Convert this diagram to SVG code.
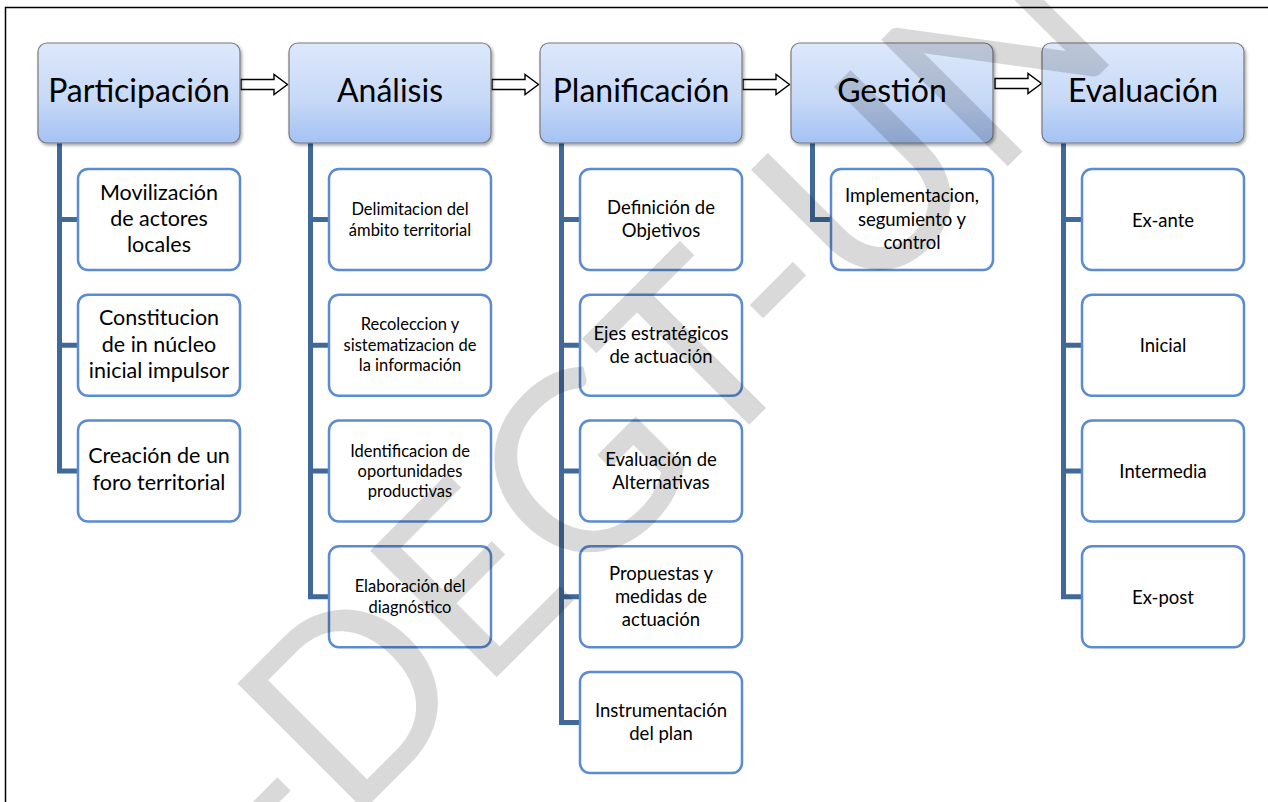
<svg xmlns="http://www.w3.org/2000/svg" width="1268" height="802" viewBox="0 0 1268 802">
  <defs>
    <linearGradient id="hdFill" x1="0" y1="0" x2="0" y2="1">
      <stop offset="0" stop-color="#dde8fb"/>
      <stop offset="0.55" stop-color="#c8daf7"/>
      <stop offset="1" stop-color="#a4c2f4"/>
    </linearGradient>
    <filter id="shadow" x="-10%" y="-10%" width="125%" height="130%">
      <feDropShadow dx="1.5" dy="2" stdDeviation="1.5" flood-color="#000" flood-opacity="0.35"/>
    </filter>
  </defs>
  <style>
    .frame { fill: none; stroke: #000; stroke-width: 1.5; }
    .hd rect { fill: url(#hdFill); stroke: #7a7a7a; stroke-width: 1.2; filter: url(#shadow); }
    .hd text { font-family: Lato, "Liberation Sans", sans-serif; font-size: 32px; text-anchor: middle; fill: #000; }
    .box rect { fill: #fff; stroke: #5b8bd1; stroke-width: 2.5; }
    .box text { font-family: Lato, "Liberation Sans", sans-serif; text-anchor: middle; fill: #000; }
    .s22 text { font-size: 21.5px; }
    .s17 text { font-size: 16.5px; }
    .s19 text { font-size: 18.5px; }
    .bar { fill: none; stroke: #41689b; stroke-width: 5; }
    .arrow { fill: #fff; stroke: #000; stroke-width: 1.4; stroke-linejoin: miter; }
    .mark { font-family: Lato, "Liberation Sans", sans-serif; fill: #000; fill-opacity: 0.15; }
  </style>

  <rect width="1268" height="802" fill="#fff"/>
  <rect class="frame" x="5.5" y="7.5" width="1300" height="900"/>

  <!-- tree connectors: vertical spines with ticks, and block arrows between stages -->
  <g id="connectors">
    <path class="bar" d="M59.5 143 V473.5 M57 471 H78 M59.5 219.5 H78 M59.5 345.25 H78"/>
    <path class="bar" d="M310.5 143 V599.25 M308 596.75 H329 M310.5 219.5 H329 M310.5 345.25 H329 M310.5 471 H329"/>
    <path class="bar" d="M561.5 143 V725 M559 722.5 H580 M561.5 219.5 H580 M561.5 345.25 H580 M561.5 471 H580 M561.5 596.75 H580"/>
    <path class="bar" d="M812.5 143 V222 M810 219.5 H831"/>
    <path class="bar" d="M1063.5 143 V599.25 M1061 596.75 H1082 M1063.5 219.5 H1082 M1063.5 345.25 H1082 M1063.5 471 H1082"/>
    <path class="arrow" d="M241 79.5 H274 V74.5 L287.5 84.5 L274 94.5 V89.5 H241 Z"/>
    <path class="arrow" d="M492 79.5 H525 V74.5 L538.5 84.5 L525 94.5 V89.5 H492 Z"/>
    <path class="arrow" d="M743 79.5 H776 V74.5 L789.5 84.5 L776 94.5 V89.5 H743 Z"/>
    <path class="arrow" d="M995 78.5 H1028 V73.5 L1041.5 83.5 L1028 93.5 V88.5 H995 Z"/>
  </g>

  <!-- stage headers -->
  <g id="participacion" class="hd"><rect x="38" y="43" width="202" height="100" rx="9"/><text x="139" y="102">Participación</text></g>
  <g id="analisis" class="hd"><rect x="289" y="43" width="202" height="100" rx="9"/><text x="390" y="102">Análisis</text></g>
  <g id="planificacion" class="hd"><rect x="540" y="43" width="202" height="100" rx="9"/><text x="641" y="102">Planificación</text></g>
  <g id="gestion" class="hd"><rect x="791" y="43" width="202" height="100" rx="9"/><text x="892" y="102">Gestión</text></g>
  <g id="evaluacion" class="hd"><rect x="1042" y="43" width="202" height="100" rx="9"/><text x="1143" y="102">Evaluación</text></g>

  <!-- Participación tasks -->
  <g id="p-movilizacion" class="box s22"><rect x="78" y="169" width="162" height="101" rx="10"/>
    <text x="159" y="200">Movilización</text><text x="159" y="226">de actores</text><text x="159" y="252">locales</text></g>
  <g id="p-constitucion" class="box s22"><rect x="78" y="294.75" width="162" height="101" rx="10"/>
    <text x="159" y="325">Constitucion</text><text x="159" y="351.5">de in núcleo</text><text x="159" y="377.5">inicial impulsor</text></g>
  <g id="p-foro" class="box s22"><rect x="78" y="420.5" width="162" height="101" rx="10"/>
    <text x="159" y="463">Creación de un</text><text x="159" y="490">foro territorial</text></g>

  <!-- Análisis tasks -->
  <g id="a-delimitacion" class="box s17"><rect x="329" y="169" width="162" height="101" rx="10"/>
    <text x="410" y="215">Delimitacion del</text><text x="410" y="236">ámbito territorial</text></g>
  <g id="a-recoleccion" class="box s17"><rect x="329" y="294.75" width="162" height="101" rx="10"/>
    <text x="410" y="330">Recoleccion y</text><text x="410" y="351">sistematizacion de</text><text x="410" y="371">la información</text></g>
  <g id="a-identificacion" class="box s17"><rect x="329" y="420.5" width="162" height="101" rx="10"/>
    <text x="410" y="457">Identificacion de</text><text x="410" y="477">oportunidades</text><text x="410" y="497">productivas</text></g>
  <g id="a-diagnostico" class="box s17"><rect x="329" y="546.25" width="162" height="101" rx="10"/>
    <text x="410" y="592">Elaboración del</text><text x="410" y="612.5">diagnóstico</text></g>

  <!-- Planificación tasks -->
  <g id="pl-objetivos" class="box s19"><rect x="580" y="169" width="162" height="101" rx="10"/>
    <text x="661" y="214">Definición de</text><text x="661" y="237">Objetivos</text></g>
  <g id="pl-ejes" class="box s19"><rect x="580" y="294.75" width="162" height="101" rx="10"/>
    <text x="661" y="340">Ejes estratégicos</text><text x="661" y="363">de actuación</text></g>
  <g id="pl-alternativas" class="box s19"><rect x="580" y="420.5" width="162" height="101" rx="10"/>
    <text x="661" y="466">Evaluación de</text><text x="661" y="489">Alternativas</text></g>
  <g id="pl-propuestas" class="box s19"><rect x="580" y="546.25" width="162" height="101" rx="10"/>
    <text x="661" y="580">Propuestas y</text><text x="661" y="603">medidas de</text><text x="661" y="626">actuación</text></g>
  <g id="pl-instrumentacion" class="box s19"><rect x="580" y="672" width="162" height="101" rx="10"/>
    <text x="661" y="717">Instrumentación</text><text x="661" y="740">del plan</text></g>

  <!-- Gestión task -->
  <g id="g-implementacion" class="box s19"><rect x="831" y="169" width="162" height="101" rx="10"/>
    <text x="912" y="202">Implementacion,</text><text x="912" y="225.5">segumiento y</text><text x="912" y="249">control</text></g>

  <!-- Evaluación moments -->
  <g id="e-exante" class="box s19"><rect x="1082" y="169" width="162" height="101" rx="10"/><text x="1163" y="226.5">Ex-ante</text></g>
  <g id="e-inicial" class="box s19"><rect x="1082" y="294.75" width="162" height="101" rx="10"/><text x="1163" y="352">Inicial</text></g>
  <g id="e-intermedia" class="box s19"><rect x="1082" y="420.5" width="162" height="101" rx="10"/><text x="1163" y="478">Intermedia</text></g>
  <g id="e-expost" class="box s19"><rect x="1082" y="546.25" width="162" height="101" rx="10"/><text x="1163" y="603.5">Ex-post</text></g>

  <!-- diagonal translucent stamp across the sheet -->
  <text class="mark" transform="translate(283 891) rotate(-45)" font-size="250" textLength="1191" lengthAdjust="spacingAndGlyphs">-DEGT-UN</text>
</svg>
